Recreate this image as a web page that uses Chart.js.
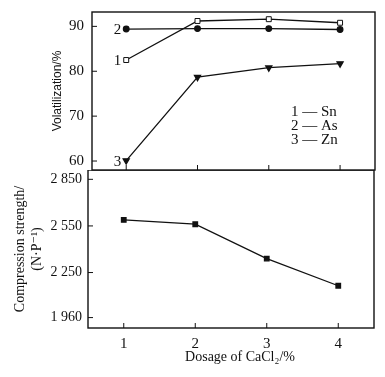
<!DOCTYPE html>
<html>
<head>
<meta charset="utf-8">
<script src="https://cdn.jsdelivr.net/npm/chart.js@4"></script>
<style>
  body { margin: 0; background: #fff; }
  #wrap { position: relative; width: 385px; height: 377px; }
  #wrap canvas { position: absolute; left: 0; }
</style>
</head>
<body>
<div id="wrap">
  <canvas id="chartVol" width="385" height="171" style="top:0"></canvas>
  <canvas id="chartComp" width="385" height="207" style="top:170px"></canvas>
</div>
<script>
// datos
const dosage = [1, 2, 3, 4];
const volSn = [82.5, 91.2, 91.6, 90.8];
const volAs = [89.4, 89.5, 89.5, 89.3];
const volZn = [60.1, 78.7, 80.8, 81.7];
const compStrength = [2589, 2561, 2340, 2165];
const volTicks = [60, 70, 80, 90];
const compTicks = [1960, 2250, 2550, 2850];
const seriesTags = ['1', '2', '3'];
const legendRows = ['1 — Sn', '2 — As', '3 — Zn'];
const xTitle = 'Dosage of CaCl₂/%';

const serif = '"Liberation Serif", "DejaVu Serif", serif';
Chart.defaults.color = '#111';
Chart.defaults.animation = false;

function pts(ys) {
    return dosage.map((x, i) => ({ x: x, y: ys[i] }));
}

// fija el tamaño del eje y quita el relleno extra de las etiquetas
function fixSize(w, h) {
    return s => {
        if (w != null) s.width = w;
        if (h != null) s.height = h;
        s.paddingTop = 0; s.paddingBottom = 0;
        s.paddingLeft = 0; s.paddingRight = 0;
    };
}

// marco + ticks hacia dentro
const framePlugin = {
    id: 'frame',
    afterDraw(chart, args, opts) {
        const ctx = chart.ctx;
        const a = chart.chartArea;
        const xs = chart.scales.x, ys = chart.scales.y;
        ctx.save();
        ctx.strokeStyle = '#111';
        ctx.lineWidth = 1.4;
        ctx.strokeRect(a.left, a.top, a.right - a.left, a.bottom - a.top);
        ctx.lineWidth = 1;
        ctx.beginPath();
        dosage.forEach(v => {
            const px = xs.getPixelForValue(v);
            ctx.moveTo(px, a.bottom); ctx.lineTo(px, a.bottom - 5);
        });
        opts.yTicks.forEach(v => {
            const py = ys.getPixelForValue(v);
            ctx.moveTo(a.left, py); ctx.lineTo(a.left + 5, py);
        });
        ctx.stroke();
        if (opts.xTitle) {
            ctx.font = '14px ' + serif;
            ctx.fillStyle = '#111';
            ctx.textAlign = 'center';
            ctx.textBaseline = 'middle';
            ctx.fillText(opts.xTitle, (a.left + a.right) / 2 + 9, a.bottom + 29);
        }
        ctx.restore();
    }
};

// etiquetas 1,2,3 y leyenda
const tagPlugin = {
    id: 'tags',
    afterDraw(chart) {
        const ctx = chart.ctx;
        const a = chart.chartArea;
        ctx.save();
        ctx.font = '15px ' + serif;
        ctx.fillStyle = '#111';
        ctx.textAlign = 'right';
        ctx.textBaseline = 'middle';
        chart.data.datasets.forEach((ds, i) => {
            const p = chart.getDatasetMeta(i).data[0];
            ctx.fillText(seriesTags[i], p.x - 5, p.y + 1);
        });
        ctx.textAlign = 'left';
        legendRows.forEach((t, i) => {
            ctx.fillText(t, a.left + 199, 112 + i * 14);
        });
        ctx.restore();
    }
};

new Chart(document.getElementById('chartVol'), {
    type: 'line',
    data: {
        datasets: [
            { label: 'Sn', data: pts(volSn), borderColor: '#111', borderWidth: 1.3,
              pointStyle: 'rect', pointRadius: 3.5, pointBackgroundColor: '#fff', pointBorderColor: '#111', pointBorderWidth: 1 },
            { label: 'As', data: pts(volAs), borderColor: '#111', borderWidth: 1.3,
              pointStyle: 'circle', pointRadius: 2.8, pointBackgroundColor: '#111', pointBorderColor: '#111' },
            { label: 'Zn', data: pts(volZn), borderColor: '#111', borderWidth: 1.3,
              pointStyle: 'triangle', pointRotation: 180, pointRadius: 3.5, pointBackgroundColor: '#111', pointBorderColor: '#111' }
        ]
    },
    options: {
        responsive: false,
        layout: { autoPadding: false, padding: { top: 12, right: 10, left: 0, bottom: 0 } },
        plugins: { legend: { display: false }, tooltip: { enabled: false }, frame: { yTicks: volTicks } },
        scales: {
            x: {
                type: 'linear', min: 0.52, max: 4.49,
                grid: { display: false }, border: { display: false },
                ticks: { display: false },
                afterFit: fixSize(null, 1)
            },
            y: {
                min: 58, max: 93.2,
                grid: { display: false, drawTicks: false }, border: { display: false },
                afterBuildTicks: s => { s.ticks = volTicks.map(v => ({ value: v })); },
                ticks: { padding: 8, font: { family: serif, size: 15 } },
                title: { display: true, text: 'Volatilization/%', font: { family: 'Arial, "Liberation Sans", sans-serif', size: 12 },
                         padding: { top: 50, bottom: 0 } },
                afterFit: fixSize(92, null)
            }
        }
    },
    plugins: [framePlugin, tagPlugin]
});

new Chart(document.getElementById('chartComp'), {
    type: 'line',
    data: {
        datasets: [
            { label: 'Compression strength', data: pts(compStrength), borderColor: '#111', borderWidth: 1.3,
              pointStyle: 'rect', pointRadius: 3.2, pointBackgroundColor: '#111', pointBorderColor: '#111' }
        ]
    },
    options: {
        responsive: false,
        layout: { autoPadding: false, padding: { top: 0, right: 11, left: 0, bottom: 0 } },
        plugins: { legend: { display: false }, tooltip: { enabled: false }, frame: { yTicks: compTicks, xTitle: xTitle } },
        scales: {
            x: {
                type: 'linear', min: 0.5, max: 4.5,
                grid: { display: false, drawTicks: false }, border: { display: false },
                afterBuildTicks: s => { s.ticks = dosage.map(v => ({ value: v })); },
                ticks: { padding: 7, font: { family: serif, size: 15 } },
                afterFit: fixSize(null, 49)
            },
            y: {
                min: 1893, max: 2910,
                grid: { display: false, drawTicks: false }, border: { display: false },
                afterBuildTicks: s => { s.ticks = compTicks.map(v => ({ value: v })); },
                ticks: {
                    padding: 6, font: { family: serif, size: 14 },
                    callback: v => String(v).replace(/(\d)(\d{3})$/, '$1 $2')
                },
                title: { display: true, text: ['Compression strength/', '(N·P⁻¹)'], font: { family: serif, size: 14 },
                         padding: { top: 12, bottom: 0 } },
                afterFit: fixSize(88, null)
            }
        }
    },
    plugins: [framePlugin]
});
</script>
</body>
</html>
